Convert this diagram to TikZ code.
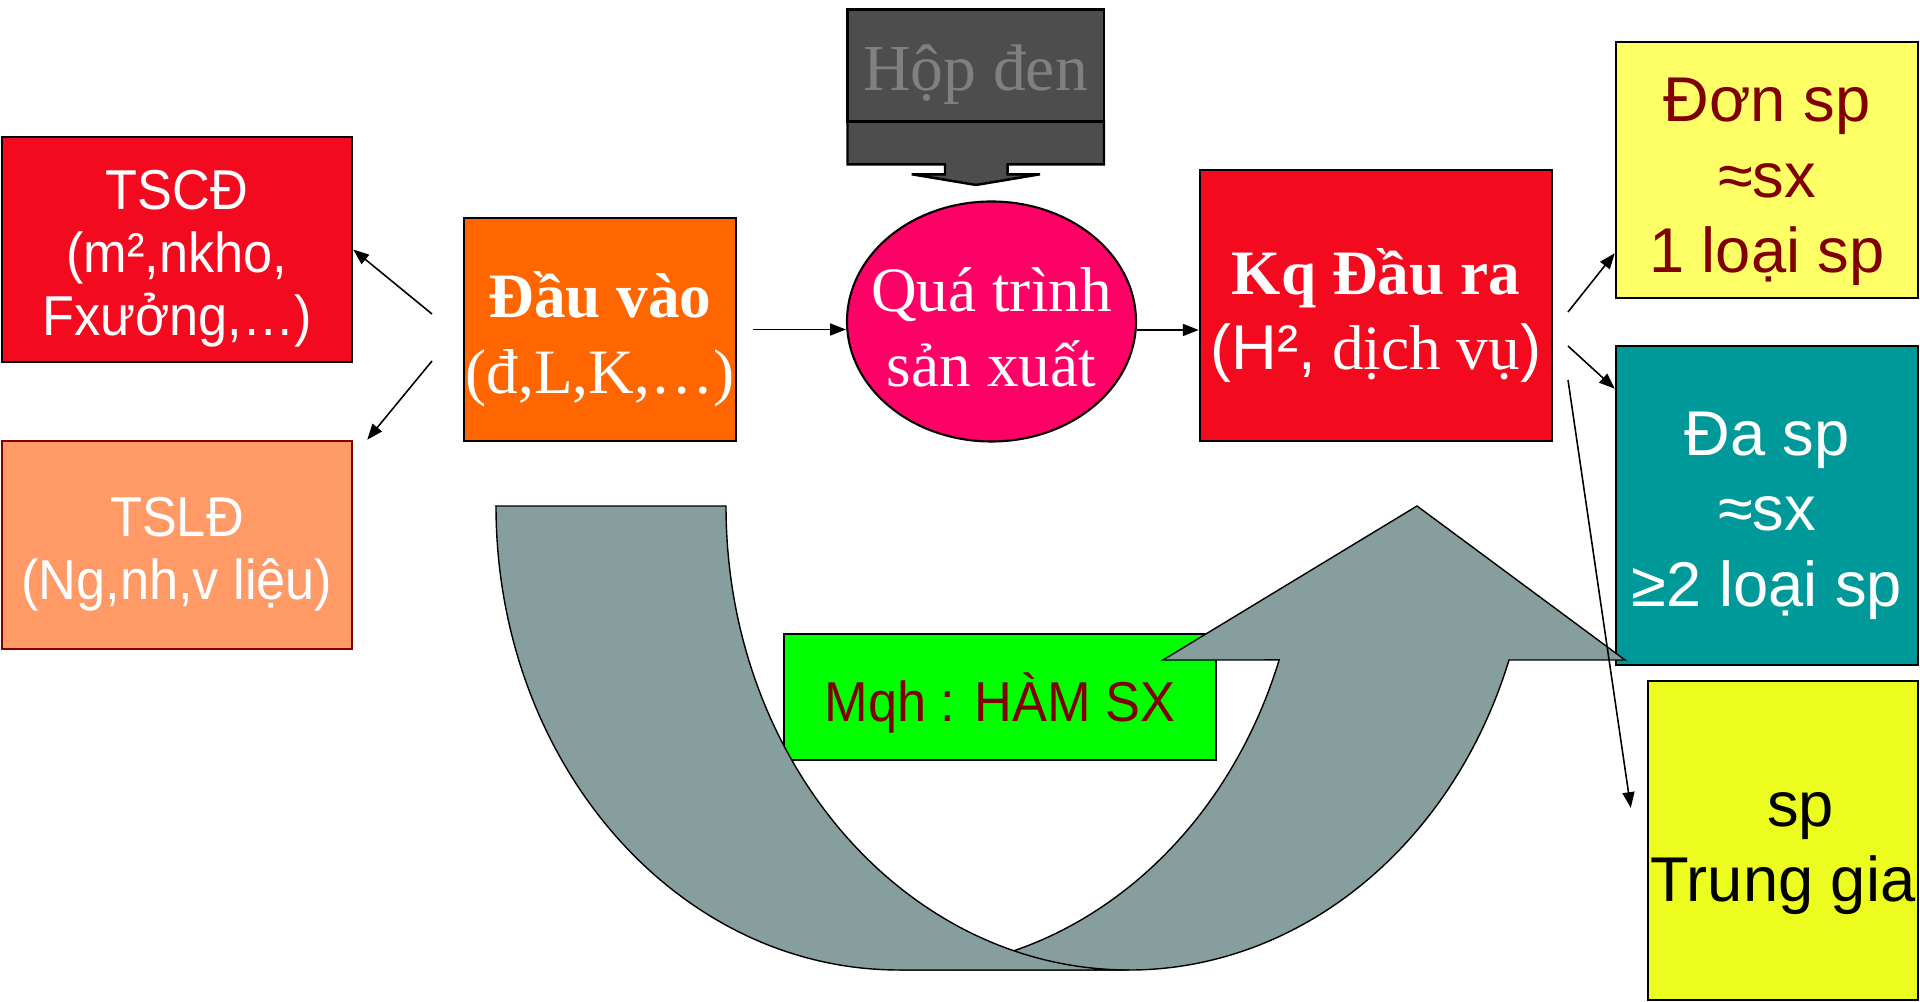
\documentclass[tikz,border=0pt]{standalone}
\usepackage{fontspec}
\setmainfont{Liberation Serif}
\setsansfont{Liberation Sans}
\newfontfamily\narrowsf[FakeStretch=0.93]{Liberation Sans}
\usetikzlibrary{shapes.geometric,arrows.meta}

\definecolor{fixedred}{HTML}{F40A1E}
\definecolor{currorange}{HTML}{FF9966}
\definecolor{inorange}{HTML}{FF6600}
\definecolor{procpink}{HTML}{FF0066}
\definecolor{oneyellow}{HTML}{FFFF66}
\definecolor{multiteal}{HTML}{009999}
\definecolor{midyellow}{HTML}{ECFC1E}
\definecolor{relgreen}{HTML}{00FF00}
\definecolor{darkred}{HTML}{800000}
\definecolor{boxgrey}{HTML}{4D4D4D}
\definecolor{textgrey}{HTML}{808080}
\definecolor{arrowgrey}{HTML}{869E9E}

\begin{document}
\begin{tikzpicture}[x=0.1mm, y=-0.1mm, >={Triangle[length=4.5pt,width=3.4pt]},
  every node/.style={inner sep=0pt, align=center},
  box/.style={draw, line width=0.7pt, rectangle},
  sftext/.style={font=\sffamily\fontsize{18}{21.5}\selectfont},
  rmtext/.style={font=\fontsize{18}{21.5}\selectfont},
  narrow/.style={font=\narrowsf\fontsize{16}{18}\selectfont},
  link/.style={->, line width=0.45pt},
  bigarrow/.style={draw, fill=arrowgrey, line width=0.4pt}]
\useasboundingbox (0,0) rectangle (1920,1002);
% assets
\node[box, fill=fixedred, minimum width=35mm, minimum height=22.5mm] (tscd) at (177,249.5) {};
\node[narrow, text=white, yshift=-0.9mm] (tscdtext) at (tscd) {TSCĐ\\(m²,nkho,\\Fxưởng,…)};
\node[box, draw=darkred, fill=currorange, minimum width=35mm, minimum height=20.8mm] (tsld) at (177,545) {};
\node[narrow, text=white, yshift=-0.9mm] (tsldtext) at (tsld) {TSLĐ\\(Ng,nh,v liệu)};
% input, process, output
\node[box, fill=inorange, minimum width=27.2mm, minimum height=22.3mm] (dauvao) at (600,329.5) {};
\node[rmtext, text=white, yshift=-1mm] (dauvaotext) at (dauvao) {\textbf{Đầu vào}\\(đ,L,K,…)};
\node[ellipse, draw, line width=0.6pt, fill=procpink, minimum width=28.9mm, minimum height=24mm] (qtsx) at (991.5,321.5) {};
\node[rmtext, text=white, yshift=-0.6mm] (qtsxtext) at (qtsx) {Quá trình\\sản xuất};
\node[box, fill=fixedred, minimum width=35.2mm, minimum height=27.1mm] (kq) at (1376,305.5) {};
\node[rmtext, text=white, yshift=-1mm] (kqtext) at (kq) {\textbf{Kq Đầu ra}\\{\sffamily (H²,} dịch vụ{\sffamily )}};
% black box
\draw[fill=boxgrey, line width=0.7pt] (847.5,121.7) -- (1104,121.7) -- (1104,164.3) -- (1007.7,164.3) -- (1007.7,174.3) -- (1040,174.3) -- (976,185) -- (911.7,174.3) -- (945,174.3) -- (945,164.3) -- (847.5,164.3) -- cycle;
\node[box, fill=boxgrey, minimum width=25.65mm, minimum height=11.24mm] (hopden) at (975.75,65.5) {};
\node[font=\fontsize{18.7}{22}\selectfont, text=textgrey, yshift=-0.9mm] (hopdentext) at (hopden) {Hộp đen};
% kinds of output
\node[box, fill=oneyellow, minimum width=30.2mm, minimum height=25.6mm] (donsp) at (1767,170) {};
\node[sftext, text=darkred, yshift=-1.2mm] (donsptext) at (donsp) {Đơn sp\\≈sx\\1 loại sp};
\node[box, fill=multiteal, minimum width=30.2mm, minimum height=31.9mm] (dasp) at (1767,505.5) {};
\node[sftext, text=white, yshift=-1mm] (dasptext) at (dasp) {Đa sp\\≈sx\\≥2 loại sp};
\node[box, fill=midyellow, minimum width=27mm, minimum height=31.9mm] (trunggia) at (1783,840.5) {};
\node[sftext, text=black, yshift=-1.3mm] (trunggiatext) at (trunggia) {\hspace*{10pt}sp\\Trung gia};
% relation
\node[box, fill=relgreen, minimum width=43.2mm, minimum height=12.6mm] (mqh) at (1000,697) {};
\node[narrow, text=darkred, yshift=-0.6mm] (mqhtext) at (mqh) {Mqh : HÀM SX};
% U-turn arrow
\draw[bigarrow] (899,970) arc[start angle=270, end angle=340.62, x radius=40.3mm, y radius=46.4mm] -- (1163,660) -- (1417,506) -- (1625,660) -- (1509,660) arc[start angle=340.62, end angle=270, x radius=40.3mm, y radius=46.4mm] -- cycle;
\draw[bigarrow] (496,506) -- (726,506) arc[start angle=180, end angle=270, x radius=40.3mm, y radius=46.4mm] -- (899,970) arc[start angle=270, end angle=180, x radius=40.3mm, y radius=46.4mm] -- cycle;
% connectors
\coordinate (dvtop) at (432,314);
\coordinate (dvbot) at (432,361);
\coordinate (qout) at ([yshift=-0.85mm]qtsx.east);
\coordinate (kqa) at (1568,312);
\coordinate (kqb) at (1568,346);
\coordinate (kqc) at (1568,380);
\draw[link] (dvtop) -- (tscd.east);
\draw[link] (dvbot) -- ([xshift=1.4mm]tsld.north east);
\draw[link] ([xshift=1.6mm]dauvao.east) -- (dauvao.east -| qtsx.west);
\draw[link] (qout) -- (qout -| kq.west);
\draw[link] (kqa) -- ([yshift=4.6mm]donsp.south west);
\draw[link] (kqb) -- ([yshift=-4.4mm]dasp.north west);
\draw[link] (kqc) -- ([xshift=-1.6mm,yshift=3.25mm]trunggia.west);
\end{tikzpicture}
\end{document}
